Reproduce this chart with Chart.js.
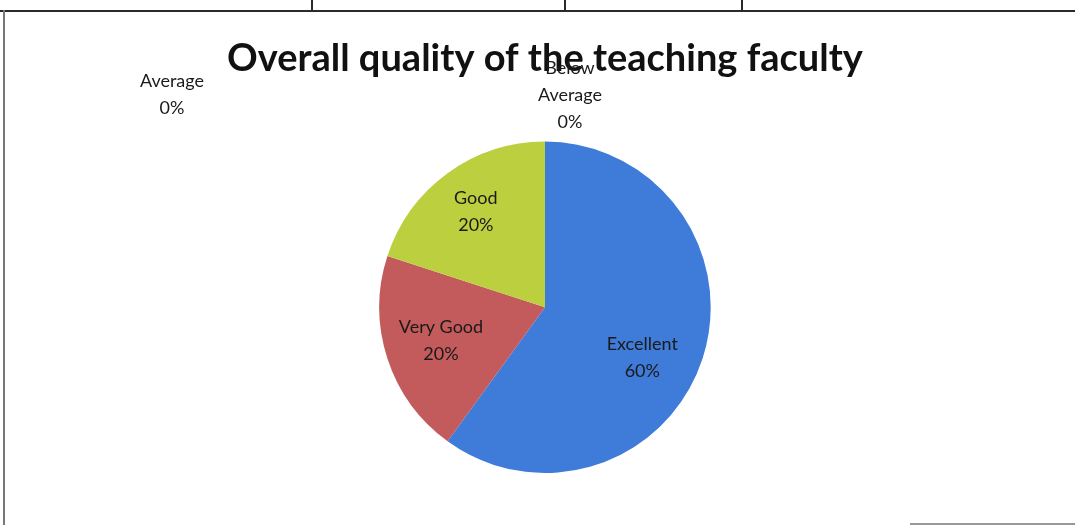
<!DOCTYPE html>
<html lang="en">
<head>
    <meta charset="UTF-8">
    <title>Overall quality of the teaching faculty</title>
    <script src="https://cdn.jsdelivr.net/npm/chart.js"></script>
    <style>
        body { margin: 0; padding: 0; background: #fff; overflow: hidden; }
        .wrap { position: relative; width: 1075px; height: 525px; }
        .line { position: absolute; background: #2a2a2a; }
        #chartBox { position: absolute; left: 0; top: 0; width: 1075px; height: 525px; }
    </style>
</head>
<body>
<div class="wrap">
    <!-- scanned table frame -->
    <div class="line" style="left:0;top:10px;width:1075px;height:2px;"></div>
    <div class="line" style="left:3px;top:10px;width:2px;height:515px;background:#777;"></div>
    <div class="line" style="left:311px;top:0;width:2px;height:11px;"></div>
    <div class="line" style="left:564px;top:0;width:2px;height:11px;"></div>
    <div class="line" style="left:741px;top:0;width:2px;height:11px;"></div>
    <div class="line" style="left:910px;top:523px;width:165px;height:2px;background:#999;"></div>
    <div id="chartBox"><canvas id="pieChart"></canvas></div>
</div>
<script>
    const categories = ['Excellent', 'Very Good', 'Good', 'Average', 'Below Average'];
    const shares = [60, 20, 20, 0, 0];
    const sliceColors = ['#3f7bd8', '#c35a5b', '#bccf3f', '#8064a2', '#4bacc6'];
    const chartTitle = 'Overall quality of the teaching faculty';

    // labels inside / beside each slice
    const sliceLabels = {
        id: 'sliceLabels',
        afterDatasetsDraw(chart) {
            const ctx = chart.ctx;
            const meta = chart.getDatasetMeta(0);
            ctx.save();
            ctx.font = '18px Lato, "Liberation Sans", sans-serif';
            ctx.fillStyle = '#1a1a1a';
            ctx.textAlign = 'center';
            ctx.textBaseline = 'middle';
            meta.data.forEach((arc, i) => {
                const lines = categories[i] === 'Below Average'
                    ? ['Below', 'Average', shares[i] + '%']
                    : [categories[i], shares[i] + '%'];
                let x, y;
                if (shares[i] > 0) {
                    // excel-like placement: a bit further out, angled down
                    const mid = (arc.startAngle + arc.endAngle) / 2 + (i === 0 ? 0.16 : 0);
                    const r = arc.outerRadius * (i === 2 ? 0.71 : 0.66);
                    x = arc.x + Math.cos(mid) * r;
                    y = arc.y + Math.sin(mid) * r;
                } else if (categories[i] === 'Average') {
                    x = arc.x - 373;
                    y = arc.y - 213;
                } else {
                    x = arc.x + 25;
                    y = arc.y - 212;
                }
                const lh = 27;
                const top = y - (lines.length - 1) * lh / 2;
                lines.forEach((t, k) => ctx.fillText(t, x, top + k * lh));
            });
            ctx.restore();
        }
    };

    new Chart(document.getElementById('pieChart'), {
        type: 'pie',
        data: {
            labels: categories,
            datasets: [{
                data: shares,
                backgroundColor: sliceColors,
                borderWidth: 0
            }]
        },
        options: {
            responsive: true,
            maintainAspectRatio: false,
            animation: false,
            layout: { padding: { top: 16, bottom: 52, left: 15, right: 0 } },
            plugins: {
                legend: { display: false },
                tooltip: { enabled: false },
                title: {
                    display: true,
                    text: chartTitle,
                    color: '#111',
                    font: { family: 'Lato, "Liberation Sans", sans-serif', size: 38, weight: 'bold', lineHeight: 1.2 },
                    padding: { top: 20, bottom: 60 }
                }
            }
        },
        plugins: [sliceLabels]
    });
</script>
</body>
</html>
